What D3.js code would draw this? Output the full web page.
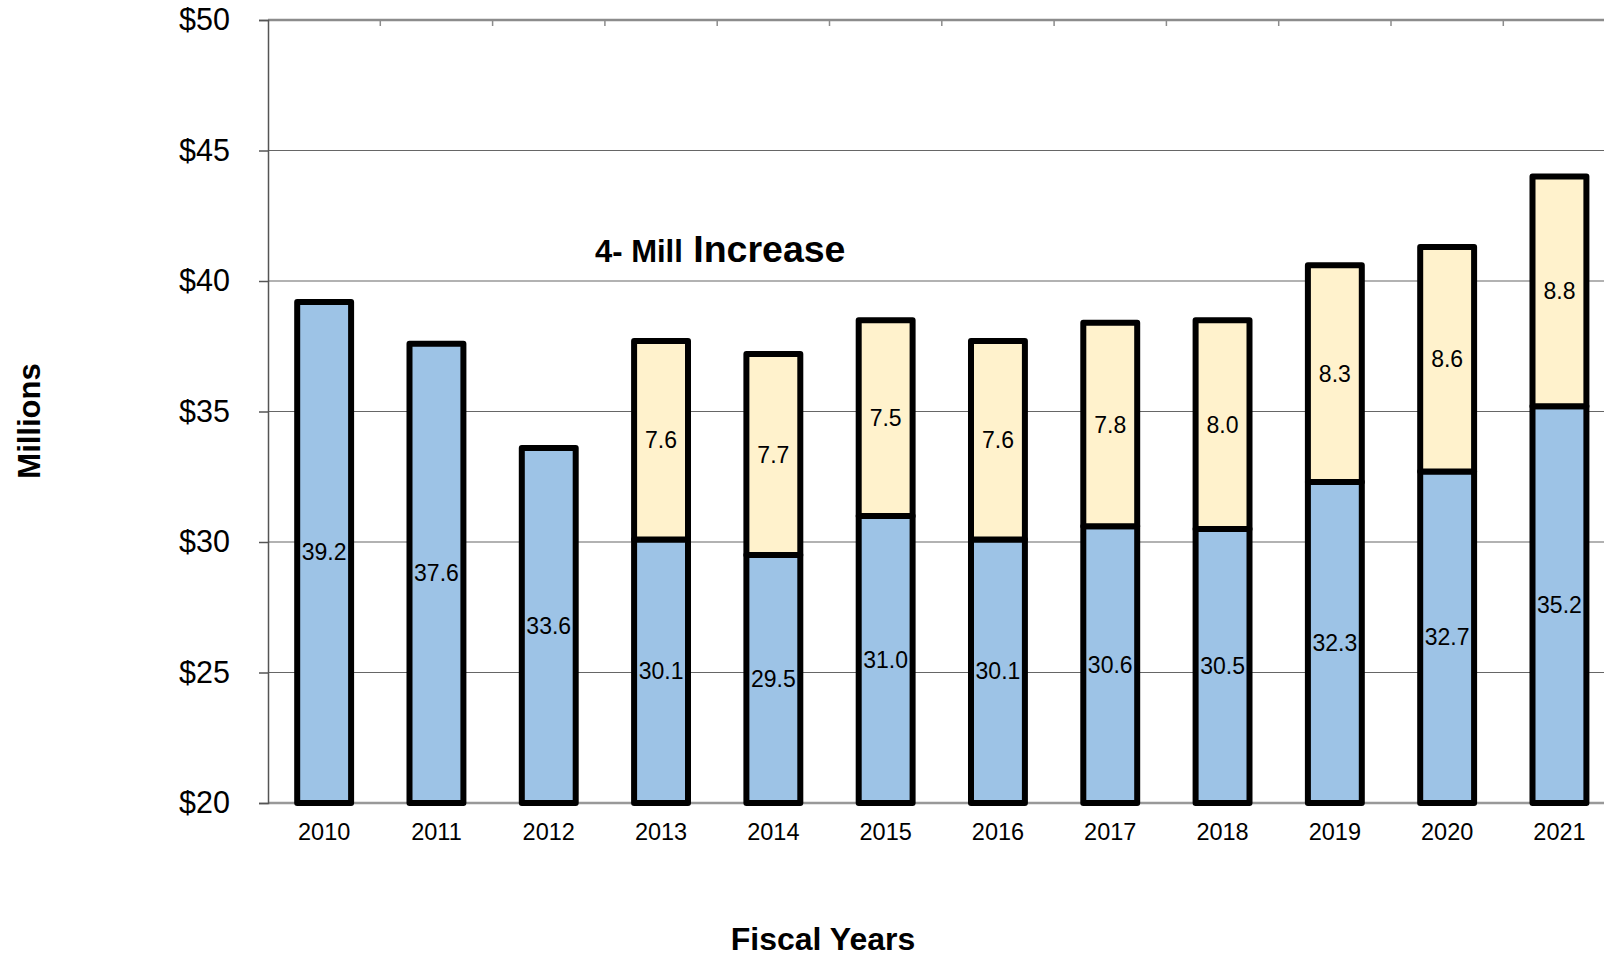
<!DOCTYPE html>
<html>
<head>
<meta charset="utf-8">
<script src="https://cdn.jsdelivr.net/npm/d3@7"></script>
<style>
    body { margin: 0; background: #fff; }
    text { font-family: "Liberation Sans", Arial, sans-serif; fill: #000; }
</style>
</head>
<body>
<div id="chart"></div>
<script>
// Chart data
const years = ["2010", "2011", "2012", "2013", "2014", "2015", "2016", "2017", "2018", "2019", "2020", "2021"];
const baseValues = [39.2, 37.6, 33.6, 30.1, 29.5, 31.0, 30.1, 30.6, 30.5, 32.3, 32.7, 35.2];
const millValues = [null, null, null, 7.6, 7.7, 7.5, 7.6, 7.8, 8.0, 8.3, 8.6, 8.8];
const yTicks = [20, 25, 30, 35, 40, 45, 50];
const annotation = { lead: "4- Mill", main: " Increase" };

const width = 1604;
const height = 957;
const plotLeft = 268;
const plotTop = 20;
const plotBottom = 803;
const step = 112.3;
const plotRight = plotLeft + step * years.length;

const blueColor = "#9dc3e6";
const yellowColor = "#fff2cc";

const svg = d3.select("#chart")
    .append("svg")
    .attr("width", width)
    .attr("height", height);

// Scales
const xScale = d3.scaleBand()
    .domain(years)
    .range([plotLeft, plotRight])
    .paddingInner(0.52)
    .paddingOuter(0.26);

const yScale = d3.scaleLinear()
    .domain([20, 50])
    .range([plotBottom, plotTop]);

// Gridlines
svg.append("g")
    .selectAll("line")
    .data(yTicks.filter(d => d > 20 && d < 50))
    .join("line")
        .attr("x1", plotLeft)
        .attr("x2", width)
        .attr("y1", d => yScale(d))
        .attr("y2", d => yScale(d))
        .attr("stroke", "#666")
        .attr("stroke-width", 1.2);

// Top border with category ticks
svg.append("line")
    .attr("x1", plotLeft)
    .attr("x2", width)
    .attr("y1", yScale(50))
    .attr("y2", yScale(50))
    .attr("stroke", "#8c8c8c")
    .attr("stroke-width", 2.5);

svg.append("g")
    .selectAll("line")
    .data(years.slice(1))
    .join("line")
        .attr("x1", d => xScale(d) - xScale.step() * 0.26)
        .attr("x2", d => xScale(d) - xScale.step() * 0.26)
        .attr("y1", yScale(50))
        .attr("y2", yScale(50) + 6)
        .attr("stroke", "#8c8c8c")
        .attr("stroke-width", 1.5);

// Bottom axis line
svg.append("line")
    .attr("x1", plotLeft)
    .attr("x2", width)
    .attr("y1", plotBottom)
    .attr("y2", plotBottom)
    .attr("stroke", "#999")
    .attr("stroke-width", 2.5);

// Y axis
const leftAxis = d3.axisLeft(yScale)
    .tickValues(yTicks)
    .tickSize(9)
    .tickPadding(29)
    .tickFormat(d => "$" + d);

const yAxisGroup = svg.append("g")
    .attr("transform", `translate(${plotLeft},0)`)
    .call(leftAxis);

yAxisGroup.select(".domain")
    .attr("stroke", "#555")
    .attr("stroke-width", 1.5);
yAxisGroup.selectAll(".tick line")
    .attr("stroke", "#555")
    .attr("stroke-width", 1.5);
yAxisGroup.selectAll(".tick text")
    .attr("font-family", "Liberation Sans, Arial, sans-serif")
    .attr("font-size", 30.5)
    .attr("fill", "#000");

// X axis labels
const bottomAxis = d3.axisBottom(xScale)
    .tickSize(0)
    .tickPadding(20);

const xAxisGroup = svg.append("g")
    .attr("transform", `translate(0,${plotBottom})`)
    .call(bottomAxis);

xAxisGroup.select(".domain").remove();
xAxisGroup.selectAll(".tick text")
    .attr("font-family", "Liberation Sans, Arial, sans-serif")
    .attr("font-size", 23.5)
    .attr("fill", "#000");

// Stacked bars
const barData = years.map((year, i) => ({
    year: year,
    base: baseValues[i],
    mill: millValues[i]
}));

const bars = svg.append("g");

bars.selectAll("rect.base")
    .data(barData)
    .join("rect")
        .attr("class", "base")
        .attr("x", d => xScale(d.year))
        .attr("y", d => yScale(d.base))
        .attr("width", xScale.bandwidth())
        .attr("height", d => yScale(20) - yScale(d.base))
        .attr("fill", blueColor)
        .attr("stroke", "#000")
        .attr("stroke-width", 6)
        .attr("stroke-linejoin", "round");

bars.selectAll("rect.mill")
    .data(barData.filter(d => d.mill != null))
    .join("rect")
        .attr("class", "mill")
        .attr("x", d => xScale(d.year))
        .attr("y", d => yScale(d.base + d.mill))
        .attr("width", xScale.bandwidth())
        .attr("height", d => yScale(d.base) - yScale(d.base + d.mill))
        .attr("fill", yellowColor)
        .attr("stroke", "#000")
        .attr("stroke-width", 6)
        .attr("stroke-linejoin", "round");

// Value labels
const labels = svg.append("g")
    .attr("font-size", 23)
    .attr("text-anchor", "middle");

labels.selectAll("text.base-label")
    .data(barData)
    .join("text")
        .attr("class", "base-label")
        .attr("x", d => xScale(d.year) + xScale.bandwidth() / 2)
        .attr("y", d => (yScale(20) + yScale(d.base)) / 2)
        .attr("dy", "0.35em")
        .text(d => d.base.toFixed(1));

labels.selectAll("text.mill-label")
    .data(barData.filter(d => d.mill != null))
    .join("text")
        .attr("class", "mill-label")
        .attr("x", d => xScale(d.year) + xScale.bandwidth() / 2)
        .attr("y", d => (yScale(d.base) + yScale(d.base + d.mill)) / 2)
        .attr("dy", "0.35em")
        .text(d => d.mill.toFixed(1));

// Annotation
const note = svg.append("text")
    .attr("x", 595)
    .attr("y", 262)
    .attr("font-weight", "bold");
note.append("tspan")
    .attr("font-size", 31)
    .text(annotation.lead);
note.append("tspan")
    .attr("font-size", 37.5)
    .text(annotation.main);

// Axis titles
svg.append("text")
    .attr("text-anchor", "middle")
    .attr("x", 823)
    .attr("y", 950)
    .attr("font-size", 32)
    .attr("font-weight", "bold")
    .text("Fiscal Years");

svg.append("text")
    .attr("text-anchor", "middle")
    .attr("transform", "rotate(-90)")
    .attr("x", -421)
    .attr("y", 40)
    .attr("font-size", 31)
    .attr("font-weight", "bold")
    .text("Millions");
</script>
</body>
</html>
